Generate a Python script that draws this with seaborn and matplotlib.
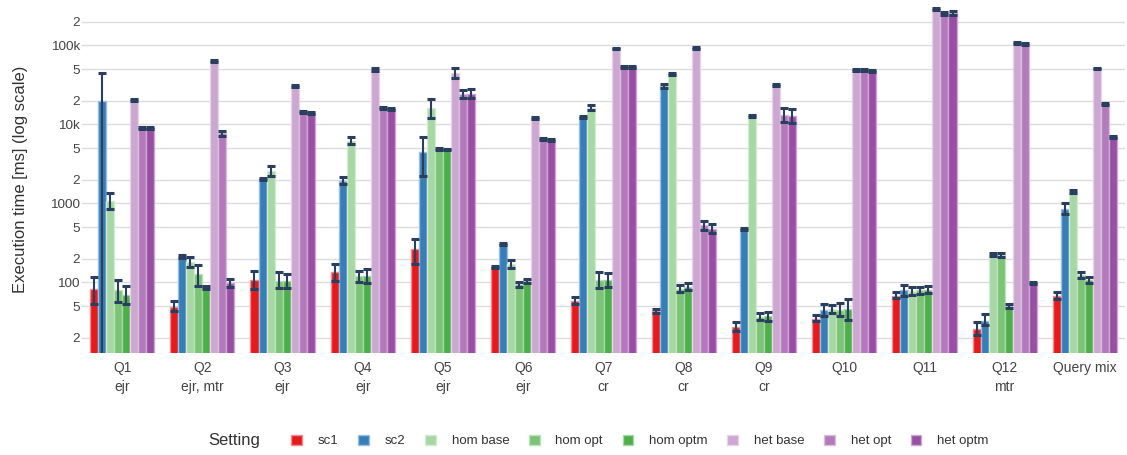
import matplotlib
matplotlib.use("Agg")
import matplotlib.pyplot as plt
from matplotlib.ticker import FixedLocator, FuncFormatter
from matplotlib.colors import to_rgb
import numpy as np
import pandas as pd
import seaborn as sns

# ---- data -----------------------------------------------------------------
queries = ["Q1\nejr", "Q2\nejr, mtr", "Q3\nejr", "Q4\nejr", "Q5\nejr", "Q6\nejr",
           "Q7\ncr", "Q8\ncr", "Q9\ncr", "Q10", "Q11", "Q12\nmtr", "Query mix"]
settings = ["sc1", "sc2", "hom base", "hom opt", "hom optm",
            "het base", "het opt", "het optm"]

sc1 = [82, 48, 107, 136, 262, 157, 58, 43, 27, 34, 68, 25.4, 67]
sc1_lo = [53, 43, 82, 104, 169, 152, 53, 41, 24, 32, 63, 21.5, 61.5]
sc1_hi = [118, 58, 139, 171, 356, 163, 65, 45.5, 31, 39, 76, 31, 75]

sc2 = [19700, 211, 2010, 1910, 4500, 305, 12300, 30500, 473, 44.6, 80, 32.7, 840]
sc2_lo = [1, 203, 1960, 1770, 2220, 297, 11900, 29000, 463, 37, 68, 28.8, 733]
sc2_hi = [44000, 219, 2060, 2130, 6960, 313, 12700, 32000, 483, 53, 92, 40, 1000]

hom_base = [1070, 182, 2590, 6190, 15900, 171, 16200, 43400, 12700, 46, 78, 222, 1400]
hom_base_lo = [848, 157, 2230, 5580, 11900, 153, 15200, 42300, 12200, 41, 70, 213, 1340]
hom_base_hi = [1340, 207, 2990, 6960, 20900, 191, 17500, 44500, 13200, 52, 87, 232, 1460]

hom_opt = [80, 126, 105, 120, 4860, 94, 107, 81.5, 36, 45, 79, 222, 124]
hom_opt_lo = [56, 90, 84, 102, 4780, 86, 85, 75, 33, 37, 71, 210, 114]
hom_opt_hi = [107, 166, 134, 140, 4940, 102, 136, 92, 41, 54, 88, 234, 136]

hom_optm = [69, 86, 104, 120, 4780, 104, 107, 86, 37, 46, 81, 50, 107]
hom_optm_lo = [53, 82, 84, 99, 4700, 99, 88, 80, 32, 33, 73, 47.5, 97]
hom_optm_hi = [91, 90, 127, 149, 4860, 110, 130, 97, 42, 61, 89, 53, 118]

het_base = [20300, 63000, 30500, 49600, 45000, 11900, 90600, 93000, 31200, 48200, 288000, 106000, 51000]
het_base_lo = [19700, 61500, 29600, 47800, 38000, 11600, 88600, 91000, 30300, 46900, 281000, 103000, 49800]
het_base_hi = [20900, 64500, 31400, 51400, 52000, 12200, 92600, 95000, 32100, 49500, 295000, 109000, 52200]

het_opt = [9050, 7690, 14500, 15900, 24000, 6570, 53600, 531, 13200, 48600, 249000, 104000, 18100]
het_opt_lo = [8750, 7200, 14100, 15400, 21700, 6380, 52200, 459, 10800, 47300, 240000, 101000, 17600]
het_opt_hi = [9350, 8200, 14900, 16400, 27200, 6760, 55000, 602, 15900, 49900, 262000, 107000, 18600]

het_optm = [9000, 97, 13900, 15600, 24400, 6270, 52600, 477, 12900, 47300, 259000, 97, 6960]
het_optm_lo = [8700, 86, 13500, 15100, 21500, 6090, 51200, 417, 10300, 46000, 245000, 94, 6750]
het_optm_hi = [9300, 110, 14300, 16100, 27700, 6450, 54000, 547, 15600, 48600, 272000, 101, 7170]

series = {
    "sc1": (sc1, sc1_lo, sc1_hi),
    "sc2": (sc2, sc2_lo, sc2_hi),
    "hom base": (hom_base, hom_base_lo, hom_base_hi),
    "hom opt": (hom_opt, hom_opt_lo, hom_opt_hi),
    "hom optm": (hom_optm, hom_optm_lo, hom_optm_hi),
    "het base": (het_base, het_base_lo, het_base_hi),
    "het opt": (het_opt, het_opt_lo, het_opt_hi),
    "het optm": (het_optm, het_optm_lo, het_optm_hi),
}

palette = ["#e41a1c", "#377eb8", "#a6d7a5", "#7ac377", "#4daf4a",
           "#cca7d1", "#b27aba", "#984ea3"]

rows = []
for s in settings:
    vals = series[s][0]
    for q, v in zip(queries, vals):
        rows.append({"query": q, "setting": s, "time": v})
df = pd.DataFrame(rows)

# ---- figure ---------------------------------------------------------------
sns.set_theme(style="white")
plt.rcParams["font.family"] = ["Liberation Sans", "DejaVu Sans"]

W, H = 1127, 455
fig = plt.figure(figsize=(W / 100, H / 100), dpi=100)
ax = fig.add_axes([82 / W, 1 - 353 / H, (1125 - 82) / W, (353 - 5) / H])

sns.barplot(data=df, x="query", y="time", hue="setting", order=queries,
            hue_order=settings, palette=palette, errorbar=None, width=0.8,
            log_scale=True, ax=ax, linewidth=1.0, saturation=1)
# clip (rather than mask) the zero baseline of the bars on the log axis
ax.set_yscale("log", nonpositive="clip")

# lighter outline around each bar
for patch in ax.patches:
    r, g, b = to_rgb(patch.get_facecolor())
    patch.set_edgecolor((0.5 * r + 0.5, 0.5 * g + 0.5, 0.5 * b + 0.5))
    patch.set_linewidth(1.0)

# error bars at the bar centres
err_color = "#2a3f5f"
for cont, s in zip(ax.containers, settings):
    vals, lo, hi = (np.array(a, dtype=float) for a in series[s])
    xs = [p.get_x() + p.get_width() / 2 for p in cont]
    ax.errorbar(xs, vals, yerr=[vals - lo, hi - vals], fmt="none",
                ecolor=err_color, elinewidth=1.5, capsize=3.0, capthick=2.2,
                zorder=5)

ax.set_ylim(10 ** 1.105, 10 ** 5.51)
ax.set_xlim(-0.5, len(queries) - 0.5)

major = [100, 1000, 1e4, 1e5]
minor = [20, 50, 200, 500, 2000, 5000, 2e4, 5e4, 2e5]


def fmt_major(v, _pos):
    if v >= 1e4:
        return f"{int(round(v / 1000))}k"
    return f"{int(round(v))}"


def fmt_minor(v, _pos):
    return f"{int(round(v / 10 ** np.floor(np.log10(v) + 1e-9)))}"


ax.yaxis.set_major_locator(FixedLocator(major))
ax.yaxis.set_minor_locator(FixedLocator(minor))
ax.yaxis.set_major_formatter(FuncFormatter(fmt_major))
ax.yaxis.set_minor_formatter(FuncFormatter(fmt_minor))

ax.grid(True, which="both", axis="y", color="#dcdcdc", linewidth=1.0)
ax.grid(False, axis="x")
ax.set_axisbelow(True)
for sp in ax.spines.values():
    sp.set_visible(False)

ax.tick_params(axis="y", which="both", length=0, pad=1.5, labelsize=9.7,
               labelcolor="#444444")
ax.tick_params(axis="x", length=0, pad=6, labelsize=10, labelcolor="#444444")
for t in ax.get_xticklabels():
    t.set_linespacing(1.45)

ax.set_xlabel("")
ax.set_ylabel("Execution time [ms] (log scale)", fontsize=12, color="#333333",
              labelpad=16)

handles, labels = ax.get_legend_handles_labels()
if ax.get_legend() is not None:
    ax.get_legend().remove()
leg = fig.legend(handles, labels, loc="center",
                 bbox_to_anchor=(640 / W, 1 - 441 / H), ncol=8, frameon=False,
                 fontsize=9.5, handlelength=0.8, handleheight=0.8,
                 handletextpad=1.2, columnspacing=1.5, borderaxespad=0)
for t in leg.get_texts():
    t.set_color("#333333")
fig.text(208 / W, 1 - 441 / H, "Setting", ha="left", va="center",
         fontsize=12, color="#333333")

fig.savefig("out.png", dpi=100)
